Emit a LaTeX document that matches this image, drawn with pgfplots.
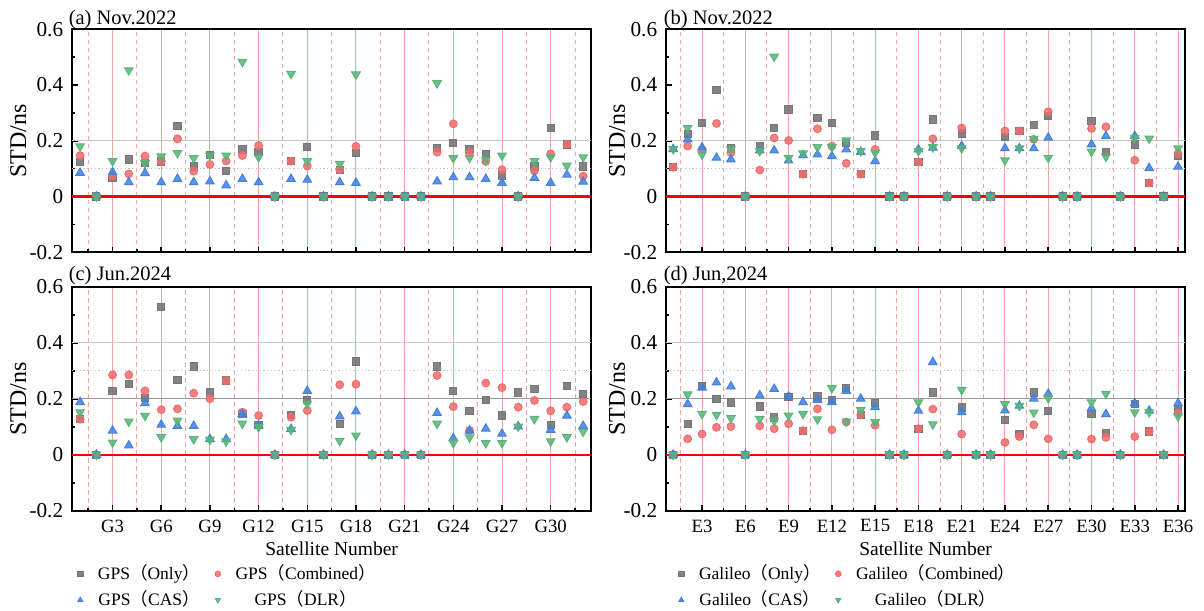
\documentclass[border=0pt]{standalone}
\usepackage{fontspec}
\setmainfont{Liberation Serif}
\newfontfamily\cjk{Noto Sans CJK SC}
\usepackage{pgfplots}
\usepackage{pgfplotstable}
\pgfplotsset{compat=1.18}

\definecolor{cOnly}{RGB}{118,118,118}
\definecolor{cComb}{RGB}{240,108,108}
\definecolor{cCAS}{RGB}{66,128,222}
\definecolor{cDLR}{RGB}{88,180,120}
\definecolor{gridred}{RGB}{242,165,165}

\newcommand{\lp}{{\cjk （}}
\newcommand{\rp}{{\cjk ）}}

% (a) GPS Nov.2022
\pgfplotstableread{
sat only comb cas dlr
1 0.123 0.147 0.085 0.180
2 0 0 0 0
3 0.067 0.075 0.087 0.127
4 0.133 0.081 0.051 0.453
5 0.121 0.145 0.084 0.120
6 0.126 0.126 0.051 0.144
7 0.253 0.207 0.063 0.156
8 0.108 0.091 0.051 0.138
9 0.150 0.115 0.054 0.147
10 0.092 0.127 0.040 0.147
11 0.169 0.147 0.063 0.483
12 0.159 0.183 0.051 0.141
13 0 0 0 0
14 0.127 0.127 0.063 0.440
15 0.177 0.109 0.060 0.127
16 0 0 0 0
17 0.096 0.096 0.051 0.117
18 0.156 0.180 0.049 0.438
19 0 0 0 0
20 0 0 0 0
21 0 0 0 0
22 0 0 0 0
23 0.174 0.159 0.054 0.407
24 0.192 0.261 0.069 0.138
25 0.169 0.157 0.069 0.139
26 0.151 0.126 0.063 0.132
27 0.075 0.096 0.049 0.147
28 0 0 0 0
29 0.108 0.092 0.067 0.127
30 0.247 0.153 0.049 0.141
31 0.187 0.187 0.078 0.111
32 0.108 0.073 0.053 0.141
}\gpsA

% (c) GPS Jun.2024
\pgfplotstableread{
sat only comb cas dlr
1 0.127 0.127 0.188 0.152
2 0 0 0 0
3 0.228 0.285 0.086 0.044
4 0.252 0.285 0.033 0.119
5 0.202 0.228 0.184 0.139
6 0.527 0.161 0.107 0.063
7 0.268 0.164 0.103 0.122
8 0.315 0.220 0.103 0.056
9 0.222 0.200 0.056 0.054
10 0.265 0.265 0.056 0.048
11 0.146 0.152 0.146 0.111
12 0.105 0.140 0.105 0.099
13 0 0 0 0
14 0.143 0.134 0.092 0.089
15 0.196 0.158 0.228 0.182
16 0 0 0 0
17 0.111 0.250 0.137 0.050
18 0.333 0.252 0.155 0.069
19 0 0 0 0
20 0 0 0 0
21 0 0 0 0
22 0 0 0 0
23 0.315 0.283 0.149 0.111
24 0.228 0.172 0.059 0.042
25 0.157 0.087 0.086 0.062
26 0.196 0.256 0.093 0.042
27 0.140 0.240 0.075 0.042
28 0.222 0.170 0.101 0.101
29 0.235 0.194 nan 0.128
30 0.107 0.157 0.089 0.048
31 0.246 0.170 0.140 0.063
32 0.216 0.190 0.103 0.083
}\gpsC

% (b) Galileo Nov.2022
\pgfplotstableread{
sat only comb cas dlr
1 0.105 0.105 0.170 0.170
2 0.225 0.181 0.205 0.246
3 0.264 0.169 0.176 0.151
4 0.383 0.262 0.139 nan
5 0.175 0.157 0.133 0.169
6 0 0 0 0
7 0.181 0.095 0.165 0.163
8 0.246 0.210 0.165 0.502
9 0.312 0.201 0.129 0.139
10 0.080 0.080 0.148 0.155
11 0.282 0.243 0.151 0.177
12 0.264 0.181 0.145 0.177
13 0.193 0.119 0.169 0.202
14 0.080 0.080 0.160 0.163
15 0.219 0.169 0.127 0.157
16 0 0 0 0
17 0 0 0 0
18 0.124 0.124 0.169 0.163
19 0.276 0.207 0.175 0.177
20 0 0 0 0
21 0.226 0.246 0.181 0.173
22 0 0 0 0
23 0 0 0 0
24 0.213 0.235 0.173 0.130
25 0.235 0.235 0.173 0.173
26 0.256 0.205 0.173 0.207
27 0.290 0.304 0.211 0.139
28 0 0 0 0
29 0 0 0 0
30 0.270 0.244 0.187 0.161
31 0.160 0.250 0.217 0.143
32 0 0 0 0
33 0.187 0.130 0.217 0.210
34 0.049 0.049 0.102 0.208
35 0 0 0 0
36 0.145 0.154 0.107 0.173
}\galB

% (d) Galileo Jun,2024
\pgfplotstableread{
sat only comb cas dlr
1 0 0 0 0
2 0.109 0.057 0.181 0.216
3 0.246 0.074 0.240 0.146
4 0.199 0.098 0.258 0.143
5 0.187 0.101 0.244 0.131
6 0 0 0 0
7 0.172 0.103 0.212 0.128
8 0.133 0.093 0.235 0.121
9 0.205 0.111 0.208 0.140
10 0.086 0.086 0.188 0.146
11 0.208 0.164 0.196 0.127
12 0.196 0.089 0.188 0.238
13 0.238 0.117 0.228 0.119
14 0.143 0.143 0.200 0.160
15 0.184 0.105 0.170 0.117
16 0 0 0 0
17 0 0 0 0
18 0.093 0.093 0.157 0.187
19 0.222 0.163 0.331 0.109
20 0 0 0 0
21 0.169 0.074 0.152 0.232
22 0 0 0 0
23 0 0 0 0
24 0.125 0.044 0.158 0.181
25 0.075 0.065 0.175 0.175
26 0.222 0.107 0.200 0.151
27 0.155 0.057 0.218 0.202
28 0 0 0 0
29 0 0 0 0
30 0.146 0.056 0.166 0.187
31 0.077 0.062 0.145 0.218
32 0 0 0 0
33 0.182 0.065 0.184 0.152
34 0.083 0.083 0.157 0.152
35 0 0 0 0
36 0.163 0.149 0.184 0.137
}\galD

\pgfplotsset{
  panel/.style={
    scale only axis, width=207.7pt,
    ymin=-0.2, ymax=0.6, xmin=0.5,
    ytick={-0.2,0,0.2,0.4,0.6}, yticklabels={-0.2,0,0.2,0.4,0.6},
    minor ytick={-0.1,0.1,0.3,0.5},
    tick align=inside, xtick pos=left, ytick pos=left,
    major tick length=2.2pt, minor tick length=1.3pt,
    tick style={black, line width=0.6pt},
    axis line style={line width=0.75pt},
    xmajorgrids, xminorgrids,
    major x grid style={gridred, line width=0.4pt},
    minor x grid style={gridred, line width=0.4pt, dash pattern=on 1.8pt off 1.4pt},
    yticklabel style={font=\fontsize{8.5}{9}\selectfont},
    xticklabel style={font=\fontsize{7.5}{8}\selectfont},
    x label style={at={(axis description cs:0.5,0)}, anchor=center, yshift=-15.2pt,
      font=\fontsize{7.8}{9}\selectfont},
    legend columns=2,
    legend cell align=center,
    legend image code/.code={\draw[#1] plot coordinates {(0pt,0pt)};},
    legend image post style={mark size=1.1pt},
    legend style={draw=none, fill=none, inner sep=0pt,
      font=\fontsize{7}{7.5}\selectfont,
      nodes={inner sep=1pt},
      at={(axis description cs:0,0)}, anchor=north west, yshift=-20.3pt,
      row sep=1pt,
      /tikz/every odd column/.append style={column sep=5pt},
      /tikz/every even column/.append style={column sep=5pt}},
  },
  gps/.style={xmax=32.5, xtick={3,6,...,30}, minor xtick={1.5,4.5,...,31.5}},
  gal/.style={xmax=36.5, xtick={3,6,...,36}, minor xtick={1.5,4.5,...,34.5}},
  mOnly/.style={only marks, mark=square*, mark size=1.45pt, color=cOnly,
    mark options={draw=none, fill opacity=0.9}},
  mComb/.style={only marks, mark=*, mark size=1.55pt, color=cComb,
    mark options={draw=none, fill opacity=0.85}},
  mCAS/.style={only marks, mark=triangle*, mark size=1.95pt, color=cCAS,
    mark options={draw=none, fill opacity=0.85}},
  mDLR/.style={only marks, mark=triangle*, mark size=1.95pt, color=cDLR,
    mark options={draw=none, fill opacity=0.85, rotate=180}},
  hl/.style={forget plot, no marks, line width=0.5pt},
}

\begin{document}
\begin{tikzpicture}
\useasboundingbox (0,0) rectangle (481.6pt,-244pt);

% (a)
\begin{axis}[panel, gps, height=89.2pt, at={(28.8pt,-100.9pt)}, anchor=south west,
  xticklabels={}]
\addplot[hl, black!22] coordinates {(0.5,0.2) (32.5,0.2)};
\addplot[hl, black!25, densely dotted] coordinates {(0.5,0.1) (32.5,0.1)};
\addplot[hl, red, line width=1pt] coordinates {(0.5,0) (32.5,0)};
\addplot[mOnly] table[x=sat,y=only]{\gpsA};
\addplot[mComb] table[x=sat,y=comb]{\gpsA};
\addplot[mCAS] table[x=sat,y=cas]{\gpsA};
\addplot[mDLR] table[x=sat,y=dlr]{\gpsA};
\end{axis}

% (b)
\begin{axis}[panel, gal, height=89.2pt, at={(266.4pt,-100.9pt)}, anchor=south west,
  xticklabels={}]
\addplot[hl, black!22] coordinates {(0.5,0.2) (36.5,0.2)};
\addplot[hl, black!25, densely dotted] coordinates {(0.5,0.1) (36.5,0.1)};
\addplot[hl, red, line width=1pt] coordinates {(0.5,0) (36.5,0)};
\addplot[mOnly] table[x=sat,y=only]{\galB};
\addplot[mComb] table[x=sat,y=comb]{\galB};
\addplot[mCAS] table[x=sat,y=cas]{\galB};
\addplot[mDLR] table[x=sat,y=dlr]{\galB};
\end{axis}

% (c)
\begin{axis}[panel, gps, height=89.6pt, at={(28.8pt,-204.3pt)}, anchor=south west,
  xticklabels={G3,G6,G9,G12,G15,G18,G21,G24,G27,G30},
  xlabel={Satellite Number},
  legend style={xshift=2pt}]
\addplot[hl, black!20] coordinates {(0.5,0.4) (32.5,0.4)};
\addplot[hl, black!22, densely dotted] coordinates {(0.5,0.3) (32.5,0.3)};
\addplot[hl, black!40] coordinates {(0.5,0.2) (32.5,0.2)};
\addplot[hl, red, line width=1pt] coordinates {(0.5,0) (32.5,0)};
\addplot[mOnly] table[x=sat,y=only]{\gpsC};
\addlegendentry{GPS\lp Only\rp}
\addplot[mComb] table[x=sat,y=comb]{\gpsC};
\addlegendentry{GPS\lp Combined\rp}
\addplot[mCAS] table[x=sat,y=cas]{\gpsC};
\addlegendentry{GPS\lp CAS\rp}
\addplot[mDLR] table[x=sat,y=dlr]{\gpsC};
\addlegendentry{GPS\lp DLR\rp}
\end{axis}

% (d)
\begin{axis}[panel, gal, height=89.6pt, at={(266.4pt,-204.3pt)}, anchor=south west,
  xticklabels={E3,E6,E9,E12,E15,E18,E21,E24,E27,E30,E33,E36},
  xlabel={Satellite Number},
  legend style={xshift=4.8pt}]
\addplot[hl, black!20] coordinates {(0.5,0.4) (36.5,0.4)};
\addplot[hl, black!22, densely dotted] coordinates {(0.5,0.3) (36.5,0.3)};
\addplot[hl, black!40] coordinates {(0.5,0.2) (36.5,0.2)};
\addplot[hl, red, line width=1pt] coordinates {(0.5,0) (36.5,0)};
\addplot[mOnly] table[x=sat,y=only]{\galD};
\addlegendentry{Galileo\lp Only\rp}
\addplot[mComb] table[x=sat,y=comb]{\galD};
\addlegendentry{Galileo\lp Combined\rp}
\addplot[mCAS] table[x=sat,y=cas]{\galD};
\addlegendentry{Galileo\lp CAS\rp}
\addplot[mDLR] table[x=sat,y=dlr]{\galD};
\addlegendentry{Galileo\lp DLR\rp}
\end{axis}

% titles and y labels
\begin{scope}[font=\fontsize{8.2}{10}\selectfont]
\node[anchor=base west, inner sep=0pt] at (27.3pt,-9.6pt) {(a) Nov.2022};
\node[anchor=base west, inner sep=0pt] at (265.3pt,-9.6pt) {(b) Nov.2022};
\node[anchor=base west, inner sep=0pt] at (27.3pt,-112.3pt) {(c) Jun.2024};
\node[anchor=base west, inner sep=0pt] at (265.3pt,-112.3pt) {(d) Jun,2024};
\end{scope}
\begin{scope}[font=\fontsize{9.6}{10}\selectfont]
\node[rotate=90] at (7.3pt,-56.3pt) {STD/ns};
\node[rotate=90] at (246.8pt,-56.3pt) {STD/ns};
\node[rotate=90] at (7.3pt,-159.5pt) {STD/ns};
\node[rotate=90] at (246.8pt,-159.5pt) {STD/ns};
\end{scope}
\end{tikzpicture}
\end{document}
